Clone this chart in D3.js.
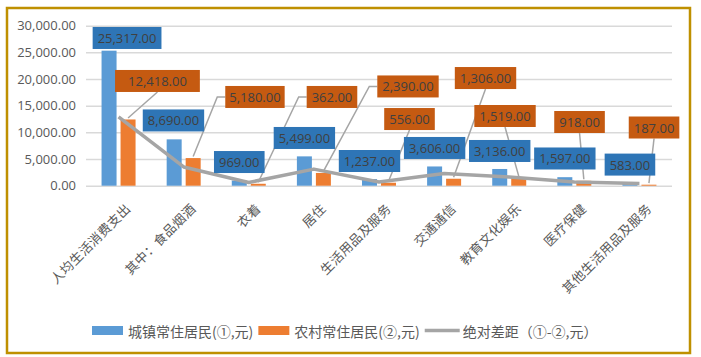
<!DOCTYPE html>
<html><head><meta charset="utf-8">
<script src="https://cdn.jsdelivr.net/npm/d3@7"></script>
<style>
html,body{margin:0;padding:0;background:#fff;}
svg{display:block;font-family:"Open Sans","Noto Sans CJK SC",sans-serif;}
</style></head>
<body>
<svg id="chart" width="701" height="357"></svg>
<script>
// ---- data ----
const categories = ["人均生活消费支出","其中：食品烟酒","衣着","居住","生活用品及服务","交通通信","教育文化娱乐","医疗保健","其他生活用品及服务"];
const urban = [25317, 8690, 969, 5499, 1237, 3606, 3136, 1597, 583];
const rural = [12418, 5180, 362, 2390, 556, 1306, 1519, 918, 187];
const gap = [12899, 3510, 607, 3109, 681, 2300, 1617, 679, 396];
const yTicks = [0, 5000, 10000, 15000, 20000, 25000, 30000];
const seriesNames = ["城镇常住居民(①,元)", "农村常住居民(②,元)", "绝对差距（①-②,元）"];

// ---- label layout (pixel offsets from bar top) ----
const urbanLabelPos = [[18,-12.7],[-0.7,-18.9],[0,-18.5],[0,-18.4],[0,-18.1],[0,-18.5],[0,-18],[0,-18.7],[0,-18]];
const ruralLabelPos = [[29.4,-38.5,"bottom",13],[61.8,-61.1,"side",4],[73.7,-86.8,"side",5],[84.6,-86.5,"side",5],
  [21,-63.7,"bottom",5],[31.9,-100.7,"bottom",5],[-13.7,-61.6,"bottom",5],[-4.3,-58.8,"bottom",5],[5.1,-57.2,"bottom",5]];

const C = {blue:"#5B9BD5", orange:"#ED7D31", blueBox:"#2E75B6", orangeBox:"#C55A11", line:"#A5A5A5", grid:"#D9D9D9", text:"#595959", label:"#404040", border:"#BF9000"};

const svg = d3.select("#chart");
svg.append("rect").attr("x",7).attr("y",8).attr("width",683).attr("height",345)
  .attr("fill","#fff").attr("stroke",C.border).attr("stroke-width",2.5);

const x = d3.scaleBand().domain(categories).range([86,672]).paddingInner(0).paddingOuter(0);
const y = d3.scaleLinear().domain([0,30000]).range([185.7,25.7]);
const bw = x.bandwidth();
const x1 = d3.scaleBand().domain(["urban","rural"]).range([bw/2-17, bw/2+17]).paddingInner(4/19).paddingOuter(0);

// grid
const yAxis = d3.axisLeft(y).tickValues(yTicks).tickSize(-(672-86)).tickFormat(d3.format(",.2f"));
const gy = svg.append("g").attr("transform","translate(86,0)").call(yAxis);
gy.select(".domain").remove();
gy.selectAll(".tick line").attr("stroke",C.grid).attr("stroke-width",1.5);
gy.selectAll(".tick text").attr("x",-10).attr("fill",C.text).style("font-size","13px").style("font-family","'Open Sans','Noto Sans CJK SC',sans-serif");

// x labels
const xAxis = d3.axisBottom(x).tickSize(0);
const gx = svg.append("g").attr("transform","translate(0,185.7)").call(xAxis);
gx.select(".domain").remove();
gx.selectAll(".tick text")
  .attr("fill",C.text).style("font-size","13px").style("font-family","'Noto Sans CJK SC',sans-serif")
  .style("letter-spacing","0.3px")
  .attr("text-anchor","end").attr("dominant-baseline","central").attr("dy",null).attr("y",null)
  .attr("transform","translate(9,20) rotate(-45)");

// bars
const groups = svg.append("g").selectAll("g").data(categories).join("g")
  .attr("transform", d => `translate(${x(d)},0)`);
groups.append("rect").attr("x", x1("urban")).attr("width", x1.bandwidth())
  .attr("y", (d,i)=>y(urban[i])).attr("height",(d,i)=>y(0)-y(urban[i])).attr("fill",C.blue);
groups.append("rect").attr("x", x1("rural")).attr("width", x1.bandwidth())
  .attr("y", (d,i)=>y(rural[i])).attr("height",(d,i)=>y(0)-y(rural[i])).attr("fill",C.orange);

// gap line
const line = d3.line().x((d,i)=>x(categories[i])+bw/2).y(d=>y(d));
svg.append("path").datum(gap).attr("d",line).attr("fill","none").attr("stroke",C.line).attr("stroke-width",3.5).attr("stroke-linejoin","round");

const fmt = d3.format(",.2f");
const labels = svg.append("g");
function addLabel(cx, cy, text, fill, pad){
  const g = labels.append("g");
  const r = g.append("rect").attr("fill",fill);
  const t = g.append("text").attr("x",cx).attr("y",cy).attr("text-anchor","middle").attr("dominant-baseline","central")
    .attr("fill",C.label).style("font-size","13px").text(text);
  const w = t.node().getComputedTextLength() + 2*pad;
  r.attr("x",cx-w/2).attr("y",cy-11).attr("width",w).attr("height",22);
  return w;
}
// rural leaders + labels
categories.forEach((c,i)=>{
  const bx = x(c)+x1("rural")+x1.bandwidth()/2, by = y(rural[i]);
  const [dx,dy,mode,pad] = ruralLabelPos[i];
  const cx = bx+dx, cy = by+dy;
  const tmp = svg.append("text").style("font-size","13px").text(fmt(rural[i]));
  const w = tmp.node().getComputedTextLength()+2*pad; tmp.remove();
  let pts;
  if(mode==="side"){ pts=[[cx-w/2,cy],[cx-w/2-8,cy],[bx,by-1.5]]; }
  else { pts=[[cx,cy+11],[bx,by-1.5]]; }
  svg.append("path").attr("d",d3.line()(pts)).attr("fill","none").attr("stroke",C.line).attr("stroke-width",1.5);
});
svg.node().appendChild(labels.node());
categories.forEach((c,i)=>{
  const bx = x(c)+x1("urban")+x1.bandwidth()/2, by = y(urban[i]);
  addLabel(bx+urbanLabelPos[i][0], by+urbanLabelPos[i][1], fmt(urban[i]), C.blueBox, 5);
});
categories.forEach((c,i)=>{
  const bx = x(c)+x1("rural")+x1.bandwidth()/2, by = y(rural[i]);
  const [dx,dy,mode,pad] = ruralLabelPos[i];
  addLabel(bx+dx, by+dy, fmt(rural[i]), C.orangeBox, pad);
});

// legend
const leg = svg.append("g").attr("transform","translate(0,330.5)");
let lx = 92;
seriesNames.forEach((n,i)=>{
  if(i<2){
    leg.append("rect").attr("x",lx).attr("y",-4.5).attr("width",31).attr("height",9).attr("fill",i===0?C.blue:C.orange);
    lx += 36;
  } else {
    leg.append("line").attr("x1",lx).attr("x2",lx+35).attr("y1",0).attr("y2",0).attr("stroke",C.line).attr("stroke-width",3.5);
    lx += 38;
  }
  const t = leg.append("text").attr("x",lx).attr("y",0).attr("dominant-baseline","central").attr("fill",C.text)
    .style("font-size","14px").style("font-family","'Noto Sans CJK SC',sans-serif").text(n);
  lx += t.node().getComputedTextLength()+5;
});
</script>
</body></html>
